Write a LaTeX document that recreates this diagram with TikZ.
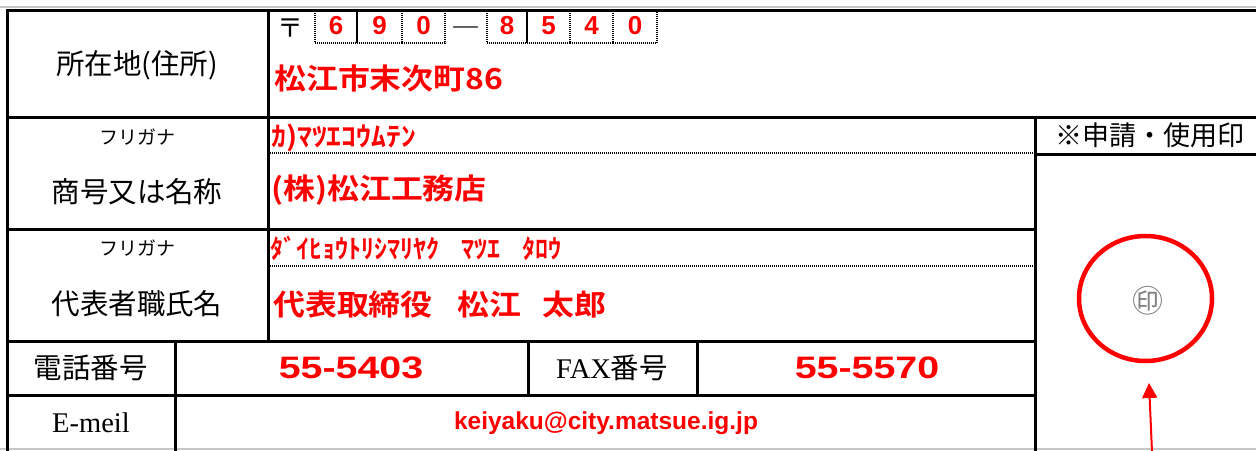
\documentclass[tikz,border=0pt]{standalone}
\usepackage{fontspec}
\usetikzlibrary{arrows.meta,shapes.geometric}
\newfontfamily\jp{Noto Sans CJK JP}
\newfontfamily\jpb[FakeStretch=1.1]{Noto Sans CJK JP Bold}
\newfontfamily\jpbn{Noto Sans CJK JP Bold}
\newfontfamily\lserif{Liberation Serif}
\newfontfamily\lsansw[FakeStretch=1.27]{Liberation Sans Bold}
\newfontfamily\lsansb{Liberation Sans Bold}
\definecolor{inkred}{RGB}{255,0,0}
\tikzset{
  cellline/.style={line width=3pt, line cap=rect},
  dotsep/.style={line width=2.2pt, dash pattern=on 1pt off 1pt},
  dotbox/.style={line width=2pt, dash pattern=on 1pt off 1pt},
  gridgray/.style={line width=1.2pt, gray!45},
  lbl/.style={font=\jp\fontsize{28.5}{28.5}\selectfont, inner sep=0pt},
  smallkana/.style={font=\jp\fontsize{19}{19}\selectfont, inner sep=0pt},
  redbig/.style={text=inkred, font=\jpb\fontsize{29}{29}\selectfont, anchor=west, inner sep=0pt},
  redkana/.style={text=inkred, font=\jpb\fontsize{27}{27}\selectfont, anchor=west, inner sep=0pt},
  redkanan/.style={text=inkred, font=\jpbn\fontsize{26}{26}\selectfont, anchor=west, inner sep=0pt},
  rednum/.style={text=inkred, font=\lsansw\fontsize{31}{31}\selectfont, inner sep=0pt},
  postdigit/.style={text=inkred, font=\lsansb\fontsize{26}{26}\selectfont, inner sep=0pt},
  mailtext/.style={text=inkred, font=\lsansb\fontsize{24.5}{24.5}\selectfont, inner sep=0pt},
}
\begin{document}
\begin{tikzpicture}[x=1pt,y=-1pt]
\useasboundingbox (0,0) rectangle (1256,450);
% spreadsheet grid remnants
\draw[gridgray] (0,7) -- (1256,7);
\draw[gridgray] (0,449) -- (1256,449);
% postal code boxes
\foreach \a/\b in {315/357,357/402,402/445,487/527,527/570,570/613,613/657}
  \draw[dotbox] (\a,11) rectangle (\b,43);
% table lines
\draw[cellline] (7,10) -- (1262,10);
\draw[cellline] (7,10) -- (7,455);
\draw[cellline] (7,117) -- (1262,117);
\draw[cellline] (7,229) -- (1035,229);
\draw[cellline] (7,341) -- (1035,341);
\draw[cellline] (7,395) -- (1035,395);
\draw[cellline] (1035,154) -- (1262,154);
\draw[cellline] (268,10) -- (268,341);
\draw[cellline] (175,341) -- (175,455);
\draw[cellline] (528,341) -- (528,395);
\draw[cellline] (697,341) -- (697,395);
\draw[cellline] (1035,117) -- (1035,455);
\draw[dotsep] (270,153) -- (1033,153);
\draw[dotsep] (270,266) -- (1033,266);
% postal code
\node[font=\jp\fontsize{26}{26}\selectfont, inner sep=0pt] (yubin) at (290,28) {〒};
\node[postdigit] (p1) at (336,26) {6};
\node[postdigit] (p2) at (379.5,26) {9};
\node[postdigit] (p3) at (423.5,26) {0};
\node[font=\jp\fontsize{29}{29}\selectfont, inner sep=0pt] (pdash) at (466,33) {―};
\node[postdigit] (p4) at (507,26) {8};
\node[postdigit] (p5) at (548.5,26) {5};
\node[postdigit] (p6) at (591.5,26) {4};
\node[postdigit] (p7) at (635,26) {0};
% labels
\node[lbl] (addrlbl) at (137,65) {所在地(住所)};
\node[smallkana] (furi1) at (137,137) {フリガナ};
\node[lbl] (namelbl) at (137,192) {商号又は名称};
\node[smallkana] (furi2) at (137,248) {フリガナ};
\node[lbl] (replbl) at (137,304) {代表者職氏名};
\node[lbl] (tellbl) at (91,368) {電話番号};
\node[lbl] (faxlbl) at (612,368) {{\lserif FAX}番号};
\node[lbl] (maillbl) at (91,423) {\lserif E-meil};
\node[lbl, font=\jp\fontsize{27}{27}\selectfont] (stamplbl) at (1150,135) {※申請・使用印};
% red entries
\node[redbig] (addr) at (274,78.5) {松江市末次町86};
\node[redkana] (kananame) at (271,137.5) {ｶ)ﾏﾂｴｺｳﾑﾃﾝ};
\node[redbig] (name) at (271,190.5) {(株)松江工務店};
\node[redkanan] (kanarep) at (270,248) {ﾀﾞｲﾋｮｳﾄﾘｼﾏﾘﾔｸ\hspace{22pt}ﾏﾂｴ\hspace{22pt}ﾀﾛｳ};
\node[redbig] (rep) at (273,304.5) {代表取締役\hspace{25pt}松江\hspace{21pt}太郎};
\node[rednum] (tel) at (351,368) {55-5403};
\node[rednum] (fax) at (867,368) {55-5570};
\node[mailtext] (email) at (606,423) {keiyaku@city.matsue.ig.jp};
% stamp
\node[ellipse, draw=inkred, line width=4.5pt, minimum width=133pt, minimum height=125pt, inner sep=0pt] (stamp) at (1145.5,298.5) {};
\node[text=gray, font=\jp\fontsize{31}{31}\selectfont, inner sep=0pt] (inkan) at (1147.5,301) {㊞};
\coordinate (arrowfoot) at (1152,452);
\coordinate (arrowtip) at (1149,383);
\draw[inkred, line width=2pt, -{Triangle[width=15pt,length=15pt]}] (arrowfoot) -- (arrowtip);
\end{tikzpicture}
\end{document}
